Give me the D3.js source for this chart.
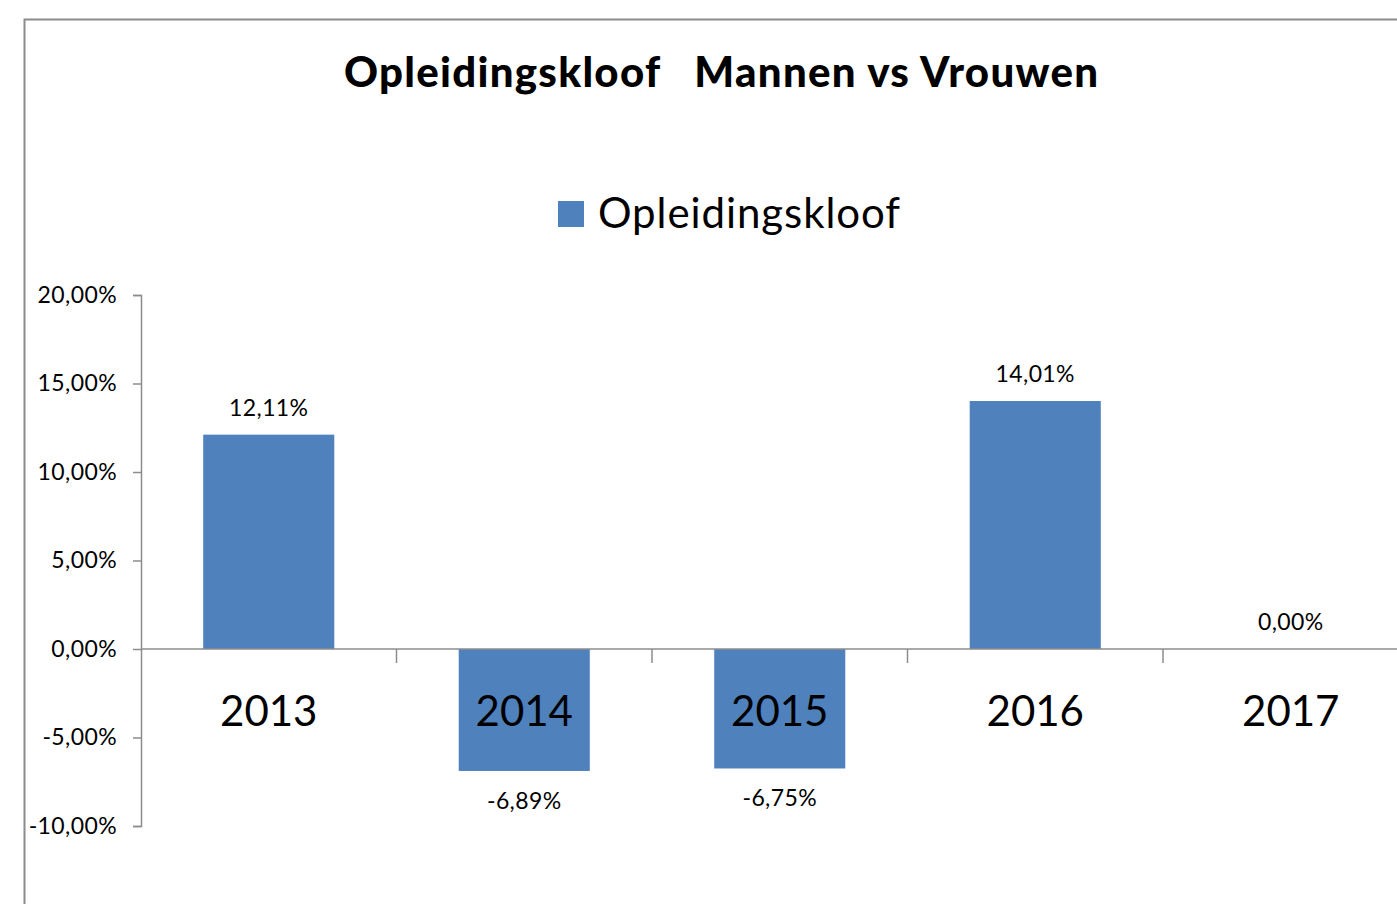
<!DOCTYPE html>
<html>
<head>
<meta charset="utf-8">
<script src="https://cdn.jsdelivr.net/npm/d3@7"></script>
<style>
  html, body { margin: 0; padding: 0; background: #fff; }
  svg { display: block; }
  text { font-family: Lato, "Open Sans", sans-serif; fill: #000; }
</style>
</head>
<body>
<svg id="chart" width="1397" height="904"></svg>
<script>
const categories = ["2013", "2014", "2015", "2016", "2017"];
const values = [12.11, -6.89, -6.75, 14.01, 0.00];
const yTicks = [20, 15, 10, 5, 0, -5, -10];
const title = "Opleidingskloof   Mannen vs Vrouwen";
const seriesName = "Opleidingskloof";

const fmt = v => v.toFixed(2).replace(".", ",") + "%";

const svg = d3.select("#chart");
const W = 1397, H = 904;

// chart frame
svg.append("rect")
  .attr("x", 24.5).attr("y", 19.5)
  .attr("width", 1420).attr("height", 920)
  .attr("fill", "#fff").attr("stroke", "#8c8c8c").attr("stroke-width", 2);

// title
svg.append("text")
  .attr("x", 344).attr("y", 87)
  .attr("textLength", 754).attr("lengthAdjust", "spacing")
  .style("font-weight", "900").style("font-size", "42px")
  .style("white-space", "pre")
  .text(title);

// legend
const leg = svg.append("g");
leg.append("rect").attr("x", 558).attr("y", 201).attr("width", 26).attr("height", 26).attr("fill", "#4F81BD");
leg.append("text").attr("x", 598).attr("y", 228)
  .attr("textLength", 302).attr("lengthAdjust", "spacing")
  .style("font-size", "42px").text(seriesName);

// scales
const x = d3.scaleBand().domain(categories).range([141, 141 + 5 * 255.5])
  .paddingInner(0.487).paddingOuter(0.2435);
const y = d3.scaleLinear().domain([-10, 20]).range([826, 295]);

const axisColor = "#8c8c8c";

// y axis
const yAxis = d3.axisLeft(y).tickValues(yTicks).tickSize(8).tickFormat(fmt);
const gy = svg.append("g").attr("transform", "translate(141,0)").call(yAxis);
gy.select(".domain").attr("stroke", axisColor).attr("stroke-width", 1.5);
gy.selectAll(".tick line").attr("stroke", axisColor).attr("stroke-width", 1.5);
gy.selectAll(".tick text").attr("x", -24).attr("dy", "0.32em")
  .style("font-size", "23px").style("letter-spacing", "0.4px")
  .style("font-family", "Lato, sans-serif").attr("fill", "#000");

// bars
svg.append("g").selectAll("rect").data(values).join("rect")
  .attr("x", (d, i) => x(categories[i]))
  .attr("width", x.bandwidth())
  .attr("y", d => y(Math.max(0, d)))
  .attr("height", d => Math.abs(y(d) - y(0)))
  .attr("fill", "#4F81BD");

// category axis along zero
const step = x.step();
const xAxisG = svg.append("g");
xAxisG.append("line")
  .attr("x1", 141).attr("x2", W + 20)
  .attr("y1", y(0)).attr("y2", y(0))
  .attr("stroke", axisColor).attr("stroke-width", 1.5);
xAxisG.selectAll("line.tk").data(categories.slice(1)).join("line")
  .attr("class", "tk")
  .attr("x1", d => x(d) - x.paddingInner() * step / 2)
  .attr("x2", d => x(d) - x.paddingInner() * step / 2)
  .attr("y1", y(0)).attr("y2", y(0) + 14)
  .attr("stroke", axisColor).attr("stroke-width", 1.5);
xAxisG.selectAll("text").data(categories).join("text")
  .attr("x", d => x(d) + x.bandwidth() / 2)
  .attr("y", y(0) + 77)
  .attr("text-anchor", "middle")
  .style("font-size", "42px")
  .text(d => d);

// data labels
svg.append("g").selectAll("text").data(values).join("text")
  .attr("x", (d, i) => x(categories[i]) + x.bandwidth() / 2)
  .attr("y", d => d >= 0 ? y(d) - 19 : y(d) + 38)
  .attr("text-anchor", "middle")
  .style("font-size", "23px").style("letter-spacing", "0.4px")
  .text(d => fmt(d));
</script>
</body>
</html>
